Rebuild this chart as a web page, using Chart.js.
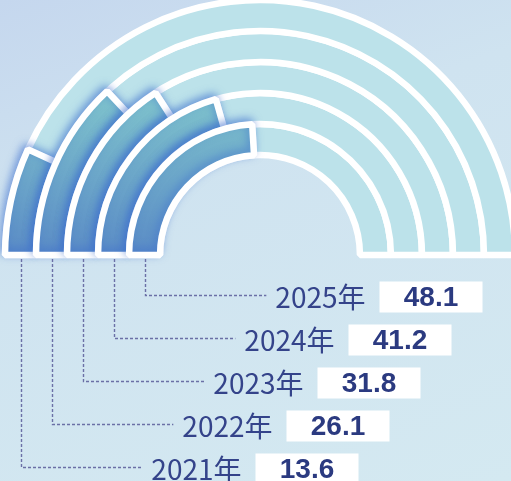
<!DOCTYPE html>
<html>
<head>
<meta charset="utf-8">
<script src="https://cdn.jsdelivr.net/npm/chart.js@4"></script>
<style>
  html, body { margin: 0; padding: 0; overflow: hidden; }
  body {
    width: 511px; height: 481px;
    background: linear-gradient(160deg, #c5d7ee 0%, #cfe3f0 35%, #d4e9f1 100%);
  }
  #chart { position: absolute; left: 0; top: 0; }
</style>
</head>
<body>
<canvas id="chart" width="511" height="481"></canvas>
<script>
// data, outer ring first
var years = [ '2021年', '2022年', '2023年', '2024年', '2025年' ];
var values = [ 13.6, 26.1, 31.8, 41.2, 48.1 ];
var fullScale = 100;

document.addEventListener( 'DOMContentLoaded', function ()
{
    var canvas = document.getElementById( 'chart' );
    var ctx = canvas.getContext( '2d' );

    var fillGradient = ctx.createLinearGradient( 0, 90, 0, 255 );
    fillGradient.addColorStop( 0, '#80c5cd' );
    fillGradient.addColorStop( 1, '#5a8bc6' );
    var trackColor = '#bce2ea';

    var datasets = values.map( function ( v, i )
    {
        return {
            label: years[ i ],
            data: [ v, fullScale - v ],
            backgroundColor: [ fillGradient, trackColor ],
            borderColor: '#ffffff',
            borderWidth: 6.5,
            hoverOffset: 0
        };
    } );

    // re-draw the filled arcs with a soft blue glow, outer ring first
    var glowPlugin = {
        id: 'glow',
        afterDatasetsDraw: function ( chart )
        {
            var c = chart.ctx;
            for ( var i = 0; i < values.length; i++ )
            {
                var arc = chart.getDatasetMeta( i ).data[ 0 ];
                c.save();
                c.shadowColor = 'rgba(60, 110, 205, 0.55)';
                c.shadowBlur = 9;
                c.shadowOffsetX = -2;
                c.shadowOffsetY = -3;
                arc.draw( c );
                c.restore();
            }
        }
    };

    // dashed leaders, year labels and value boxes
    var labelPlugin = {
        id: 'labels',
        afterDraw: function ( chart )
        {
            var c = chart.ctx;
            var n = values.length;
            for ( var i = 0; i < n; i++ )
            {
                var arc = chart.getDatasetMeta( i ).data[ 0 ];
                var midX = Math.round( arc.x - ( arc.innerRadius + arc.outerRadius ) / 2 ) + 0.5;
                var row = n - 1 - i;
                var rowY = 297 + 43 * row;
                var lineY = rowY - 2 + 0.5;
                var boxX = midX + 234;
                var textRight = boxX - 14;

                c.save();
                c.font = 'normal 28px "Noto Sans CJK SC", "Noto Sans", sans-serif';
                var tw = c.measureText( years[ i ] ).width;

                c.strokeStyle = '#6b70a6';
                c.lineWidth = 1.4;
                c.setLineDash( [ 3, 2 ] );
                c.beginPath();
                c.moveTo( midX, arc.y + 4 );
                c.lineTo( midX, lineY );
                c.lineTo( textRight - tw - 9, lineY );
                c.stroke();
                c.setLineDash( [] );

                c.fillStyle = '#34438a';
                c.textAlign = 'right';
                c.textBaseline = 'middle';
                c.fillText( years[ i ], textRight, rowY );

                c.fillStyle = '#ffffff';
                c.fillRect( boxX, rowY - 15.5, 103, 31 );

                c.fillStyle = '#2b3a80';
                c.textAlign = 'center';
                c.font = 'bold 28px "Liberation Sans", Arial, sans-serif';
                c.fillText( values[ i ].toFixed( 1 ), boxX + 51.5, rowY + 1 );
                c.restore();
            }
        }
    };

    new Chart( ctx, {
        type: 'doughnut',
        data: {
            labels: [ 'value', 'rest' ],
            datasets: datasets
        },
        options: {
            responsive: false,
            animation: false,
            events: [],
            circumference: 180,
            rotation: -90,
            radius: 255,
            cutout: '39.2%',
            layout: {
                padding: { left: 9, right: 0, top: 0, bottom: 226 }
            },
            plugins: {
                legend: { display: false },
                tooltip: { enabled: false }
            }
        },
        plugins: [ glowPlugin, labelPlugin ]
    } );
} );
</script>
</body>
</html>
